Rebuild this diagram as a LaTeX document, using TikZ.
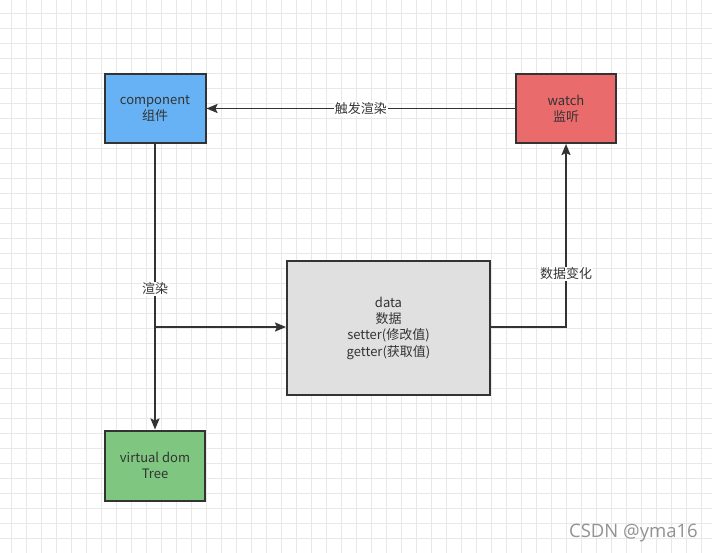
\documentclass[tikz,border=0pt]{standalone}
\usepackage{fontspec}
\setmainfont{Noto Sans CJK SC}
\newfontfamily\wmfont{Open Sans}
\usetikzlibrary{arrows.meta}
\definecolor{txt}{HTML}{333333}
\definecolor{gridc}{HTML}{E8E8E8}
\definecolor{bluef}{HTML}{66B2F5}
\definecolor{redf}{HTML}{EA6B6B}
\definecolor{grayf}{HTML}{E0E0E0}
\definecolor{greenf}{HTML}{7FC781}
\begin{document}
\begin{tikzpicture}[x=1pt,y=-1pt,
  box/.style={draw=txt,line width=2pt,text=txt,align=center,font=\fontsize{13}{16.3}\selectfont,inner sep=0pt},
  conn/.style={draw=txt,line width=1.8pt,-{Stealth[length=11pt,width=9pt,inset=2pt]}},
  plain/.style={draw=txt,line width=1.8pt},
  lbl/.style={fill=white,text=txt,font=\fontsize{13}{15}\selectfont,inner sep=1pt}]
\useasboundingbox (0,0) rectangle (712,553);
\fill[white] (0,0) rectangle (712,553);
\foreach \i in {0,...,46} {\draw[gridc,line width=1pt] ({11.7+15*\i},0) -- ({11.7+15*\i},553);}
\foreach \j in {0,...,36} {\draw[gridc,line width=1pt] (0,{13.3+15*\j}) -- (712,{13.3+15*\j});}
\node[box,fill=bluef,minimum width=101pt,minimum height=69pt] (comp) at (155,108.5) {component\\组件};
\node[box,fill=redf,minimum width=100pt,minimum height=69pt] (watch) at (566,108.5) {watch\\监听};
\node[box,fill=grayf,minimum width=203pt,minimum height=134pt] (data) at (388.5,328) {data\\数据\\setter(修改值)\\getter(获取值)};
\node[box,fill=greenf,minimum width=100pt,minimum height=70pt] (vdom) at (155,465.5) {virtual dom\\Tree};
\coordinate (br) at (155,327);
\coordinate (turn) at (566,327);
\draw[conn] (watch.west) -- node[lbl] {触发渲染} (comp.east);
\draw[conn] (comp.south) -- (vdom.north);
\node[lbl] (l1) at (155,289) {渲染};
\draw[conn] (br) -- (data.west |- br);
\draw[conn] (data.east |- turn) -- (turn) -- (watch.south);
\node[lbl] (l2) at (566,274) {数据变化};
\node[text=gray!85,font=\wmfont\fontsize{18.5}{20}\selectfont,anchor=east,inner sep=0pt] (wm) at (698,533) {CSDN @yma16};
\end{tikzpicture}
\end{document}
